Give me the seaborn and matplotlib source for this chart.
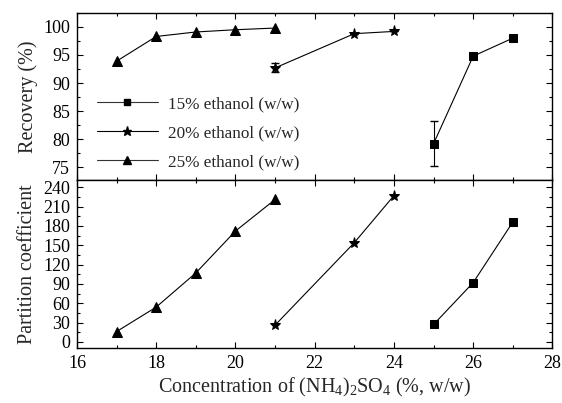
import matplotlib
matplotlib.use("Agg")
import matplotlib.pyplot as plt
from matplotlib.ticker import MultipleLocator
from matplotlib.lines import Line2D
import seaborn as sns
import pandas as pd

sns.set_theme(style="ticks")
plt.rcParams['font.family'] = ['Liberation Serif', 'DejaVu Serif']
plt.rcParams['mathtext.fontset'] = 'custom'
plt.rcParams['mathtext.rm'] = 'Liberation Serif'
plt.rcParams['mathtext.it'] = 'Liberation Serif:italic'

# Data
series_labels = ["15% ethanol (w/w)", "20% ethanol (w/w)", "25% ethanol (w/w)"]
x15 = [25, 26, 27]
x20 = [21, 23, 24]
x25 = [17, 18, 19, 20, 21]
rec15 = [79.2, 94.8, 98.0]
rec15_err = [4.0, 0.0, 0.0]
rec20 = [92.7, 98.8, 99.2]
rec20_err = [0.8, 0.0, 0.0]
rec25 = [93.9, 98.3, 99.1, 99.5, 99.8]
pc15 = [27, 92, 186]
pc20 = [26, 154, 227]
pc25 = [16, 54, 107, 172, 221]

df = pd.concat([
    pd.DataFrame({"x": x15, "rec": rec15, "pc": pc15, "series": series_labels[0]}),
    pd.DataFrame({"x": x20, "rec": rec20, "pc": pc20, "series": series_labels[1]}),
    pd.DataFrame({"x": x25, "rec": rec25, "pc": pc25, "series": series_labels[2]}),
])

markers = {series_labels[0]: "s", series_labels[1]: "*", series_labels[2]: "^"}
msizes = {series_labels[0]: 6, series_labels[1]: 8, series_labels[2]: 7}

fig = plt.figure(figsize=(5.62, 4.03), dpi=100)
ax1 = fig.add_axes([0.137, 0.553, 0.846, 0.415])
ax2 = fig.add_axes([0.137, 0.1365, 0.846, 0.4165], sharex=ax1)

for lab in series_labels:
    sub = df[df.series == lab]
    for ax, col in ((ax1, "rec"), (ax2, "pc")):
        sns.lineplot(data=sub, x="x", y=col, ax=ax, color="black", lw=0.8,
                     marker=markers[lab], markersize=msizes[lab],
                     markeredgecolor="black", markerfacecolor="black",
                     legend=False, errorbar=None)

ax1.errorbar(x15, rec15, yerr=rec15_err, fmt="none", ecolor="black", elinewidth=0.8, capsize=3)
ax1.errorbar(x20, rec20, yerr=rec20_err, fmt="none", ecolor="black", elinewidth=0.8, capsize=3)

handles = [Line2D([], [], color="#333333" if i != 1 else "black", lw=0.8,
                  marker=markers[l], markersize=msizes[l] - 1.5, markerfacecolor="black",
                  markeredgecolor="black")
           for i, l in enumerate(series_labels)]
ax1.legend(handles, series_labels, loc="lower left", bbox_to_anchor=(0.027, 0.02),
           frameon=False, fontsize=12.3, handlelength=3.6, handletextpad=0.6,
           labelspacing=0.75, borderaxespad=0.0)

ax1.set_xlim(16, 28)
ax1.set_ylim(72.7, 102.5)
ax2.set_ylim(-9.5, 251)

ax1.yaxis.set_major_locator(MultipleLocator(5))
ax1.yaxis.set_minor_locator(MultipleLocator(2.5))
ax2.yaxis.set_major_locator(MultipleLocator(30))
ax2.yaxis.set_minor_locator(MultipleLocator(15))
ax2.xaxis.set_major_locator(MultipleLocator(2))
ax2.xaxis.set_minor_locator(MultipleLocator(1))

for ax in (ax1, ax2):
    ax.tick_params(which="both", direction="in", top=True, right=True, labelsize=13,
                   color="black", labelcolor="black", pad=5)
    ax.tick_params(which="major", length=4, width=0.8)
    ax.tick_params(which="minor", length=2.5, width=0.8)
    for s in ax.spines.values():
        s.set_linewidth(1.0)
        s.set_color("black")
    ax.set_xlabel("")
    ax.set_ylabel("")

ax1.tick_params(axis="x", labelbottom=False)
ax1.set_ylabel("Recovery (%)", fontsize=14.5, labelpad=4)
ax2.set_ylabel("Partition coefficient", fontsize=14.5, labelpad=4)
ax2.set_xlabel("Concentration of (NH$_4$)$_2$SO$_4$ (%, w/w)", fontsize=14.5, labelpad=3)
fig.align_ylabels([ax1, ax2])

fig.savefig("out.png", dpi=100)
